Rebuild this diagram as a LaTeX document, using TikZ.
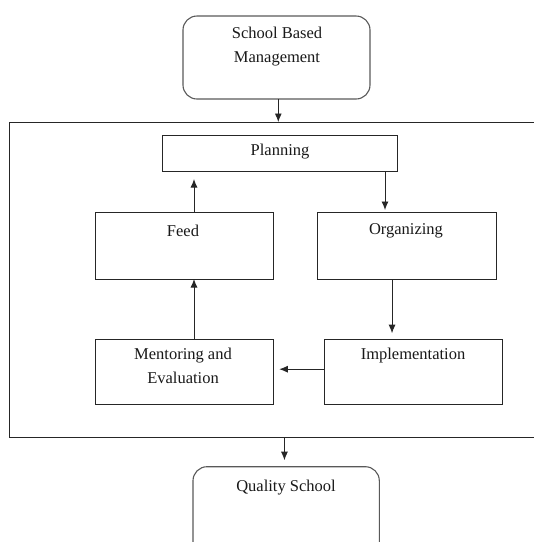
\documentclass[tikz,border=0pt]{standalone}
\usepackage{fontspec}
\setmainfont{Liberation Serif}
\usetikzlibrary{arrows.meta}
\begin{document}
\begin{tikzpicture}[x=1pt,y=-1pt,
 box/.style={draw=black!85, line width=0.9pt, inner sep=0pt, outer sep=0pt, anchor=north west},
 rbox/.style={draw=black!65, line width=1.1pt, rounded corners=14pt, inner sep=0pt, outer sep=0pt, anchor=north west},
 lbl/.style={font=\fontsize{16.5}{23.5}\selectfont, align=center, inner sep=0pt, text=black!90},
 arr/.style={-{Latex[length=8.5pt,width=7pt]}, line width=0.9pt, draw=black!85}]
\useasboundingbox (0,0) rectangle (534,542);
% boxes
\node[rbox, minimum width=187pt, minimum height=83pt] (sbm) at (183,16) {};
\node[box, minimum width=540pt, minimum height=315.7pt] (frame) at (9.5,122) {};
\node[box, minimum width=235pt, minimum height=36pt] (plan) at (162,135) {};
\node[box, minimum width=178pt, minimum height=67pt] (feed) at (95.7,212) {};
\node[box, minimum width=178.3pt, minimum height=67pt] (org) at (317.7,212) {};
\node[box, minimum width=178pt, minimum height=65pt] (ment) at (95.7,339.7) {};
\node[box, minimum width=178.7pt, minimum height=65pt] (impl) at (324,339.7) {};
\node[rbox, minimum width=186.3pt, minimum height=100pt] (qs) at (193,466.7) {};
% texts
\node[lbl] (tsbm) at (277,46.7) {School Based\\Management};
\node[lbl] (tplan) at (280,151.5) {Planning};
\node[lbl] (tfeed) at (183,230.5) {Feed};
\node[lbl] (torg) at (406,230.5) {Organizing};
\node[lbl] (tment) at (183,366) {Mentoring and\\Evaluation};
\node[lbl] (timpl) at (413,355.5) {Implementation};
\node[lbl] (tqs) at (286,487.5) {Quality School};
% connectors
\draw[arr] ([xshift=1.8pt]sbm.south) -- ([xshift=1.8pt]sbm.south |- frame.north);
\draw[arr, shorten >=8pt] ([xshift=9.3pt]feed.north) -- ([xshift=9.3pt]feed.north |- plan.south);
\draw[arr, shorten >=2pt] ([xshift=-12pt]plan.south east) -- ([xshift=-12pt]plan.south east |- org.north);
\draw[arr, shorten >=6.5pt] ([xshift=-14.8pt]org.south) -- ([xshift=-14.8pt]org.south |- impl.north);
\draw[arr] ([xshift=9.3pt]ment.north) -- ([xshift=9.3pt]ment.north |- feed.south);
\draw[arr, shorten >=5.6pt] ([yshift=3pt]impl.west) -- ([yshift=3pt]impl.west -| ment.east);
\draw[arr, shorten >=6.5pt] ([xshift=-1.7pt]qs.north |- frame.south) -- ([xshift=-1.7pt]qs.north);
\end{tikzpicture}
\end{document}
